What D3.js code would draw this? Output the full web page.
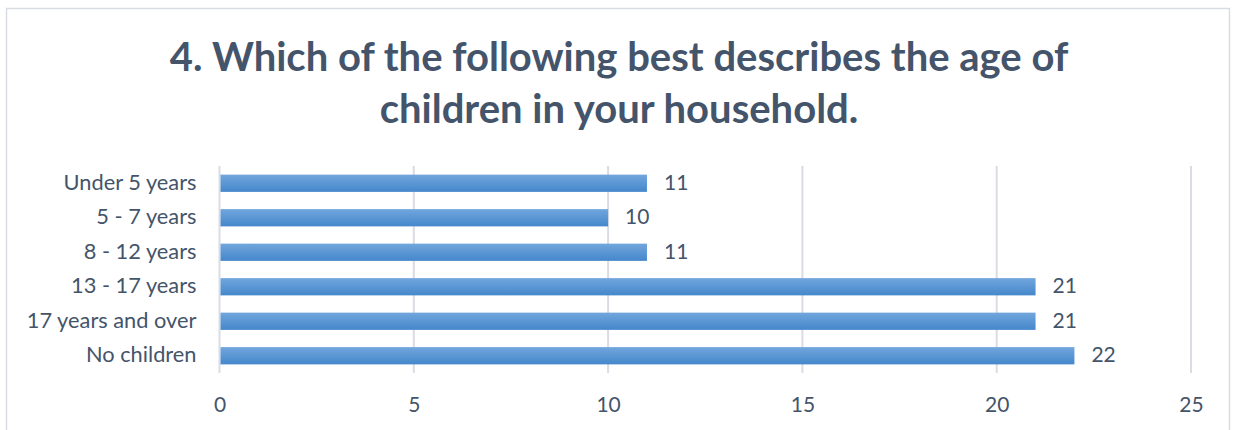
<!DOCTYPE html>
<html><head><meta charset="utf-8">
<script src="https://cdn.jsdelivr.net/npm/d3@7"></script>
<style>body{margin:0;background:#fff}svg{display:block}</style>
</head><body>
<script>
const categories = ["Under 5 years","5 - 7 years","8 - 12 years","13 - 17 years","17 years and over","No children"];
const values = [11,10,11,21,21,22];
const tickValues = [0,5,10,15,20,25];
const titleLines = ["4. Which of the following best describes the age of","children in your household."];

const W=1234,H=430;
const svg=d3.select("body").append("svg").attr("width",W).attr("height",H);
const defs=svg.append("defs");
const g=defs.append("linearGradient").attr("id","bg").attr("x1",0).attr("y1",0).attr("x2",0).attr("y2",1);
g.append("stop").attr("offset","0%").attr("stop-color","#72a6dd");
g.append("stop").attr("offset","100%").attr("stop-color","#4487cb");

svg.append("rect").attr("x",6.5).attr("y",8.5).attr("width",1223).attr("height",430)
  .attr("fill","#fff").attr("stroke","#d9dde3").attr("stroke-width",1.5);

const font="Lato, 'Open Sans', sans-serif";
const txtColor="#44546a";
const title=svg.append("text").attr("text-anchor","middle").attr("fill",txtColor)
  .attr("font-family",font).attr("font-weight","bold").attr("font-size",40);
titleLines.forEach((t,i)=>title.append("tspan").attr("x",619).attr("y",71+i*52).text(t));

const x=d3.scaleLinear().domain([0,25]).range([219.5,1191]);
const y=d3.scaleBand().domain(categories).range([166,373]).paddingInner(0.5).paddingOuter(0.25);

svg.append("g").selectAll("line").data(tickValues).join("line")
  .attr("x1",d=>x(d)).attr("x2",d=>x(d)).attr("y1",166).attr("y2",373)
  .attr("stroke","#d9dde3").attr("stroke-width",2);

svg.append("g").selectAll("rect").data(values).join("rect")
  .attr("x",x(0)+1).attr("y",(d,i)=>y(categories[i]))
  .attr("width",d=>x(d)-x(0)-1).attr("height",y.bandwidth()).attr("fill","url(#bg)");

svg.append("g").selectAll("text").data(values).join("text")
  .attr("x",d=>x(d)+17).attr("y",(d,i)=>y(categories[i])+y.bandwidth()/2)
  .attr("dy","0.32em").attr("fill",txtColor).attr("font-family",font).attr("font-size",21)
  .text(d=>d);

const yAxis=svg.append("g").attr("transform","translate(219.5,0)").call(d3.axisLeft(y).tickSize(0).tickPadding(23));
yAxis.select(".domain").remove();
yAxis.selectAll("text").attr("fill",txtColor).attr("font-family",font).attr("font-size",21.8).attr("dy","0.3em");

const xAxis=svg.append("g").attr("transform","translate(0,373)").call(d3.axisBottom(x).tickValues(tickValues).tickSize(0).tickPadding(0));
xAxis.select(".domain").remove();
xAxis.selectAll("text").attr("fill",txtColor).attr("font-family",font).attr("font-size",21).attr("dy",0).attr("y",38.5);
</script>
</body></html>
